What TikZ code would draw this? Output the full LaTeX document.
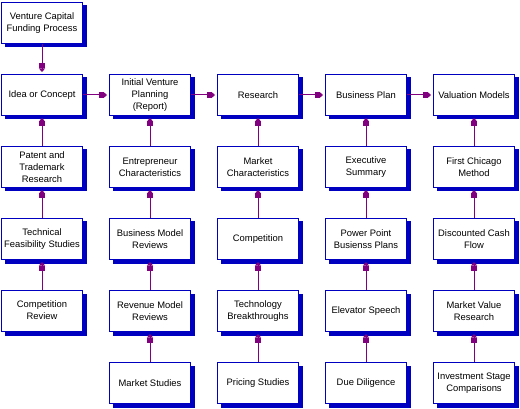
\documentclass[tikz,border=0pt]{standalone}
\usepackage{fontspec}
\setmainfont{Liberation Sans}
\usetikzlibrary{arrows.meta}
\definecolor{boxblue}{RGB}{0,0,192}
\definecolor{arrowpurple}{RGB}{128,0,128}
\tikzset{
  box/.style={draw=boxblue, line width=1pt, fill=white, minimum width=81pt, minimum height=41pt,
    inner sep=0pt, align=center, font=\fontsize{9.4pt}{12pt}\selectfont,
    preaction={fill=boxblue, draw=boxblue, transform canvas={shift={(3.5pt,-3.5pt)}}}},
  link/.style={draw=arrowpurple, line width=1pt, shorten >=2pt,
    -{Rectangle[length=5pt,width=6pt,sep=0pt]Triangle[length=3.5pt,width=6pt]}}
}
\begin{document}
\begin{tikzpicture}[x=1pt,y=-1pt]
\useasboundingbox (0,0) rectangle (520,409);
% column 1
\node[box] (vc)  at (42,23)  {Venture Capital\\Funding Process};
\node[box] (idea) at (42,95) {Idea or Concept};
\node[box] (pat) at (42,167) {Patent and\\Trademark\\Research};
\node[box] (tech) at (42,239) {Technical\\Feasibility Studies};
\node[box] (comprev) at (42,311) {\raisebox{5pt}{\begin{tabular}{@{}c@{}}Competition\\Review\end{tabular}}};
% column 2
\node[box] (ivp) at (150,95) {Initial Venture\\Planning\\(Report)};
\node[box] (ent) at (150,167) {Entrepreneur\\Characteristics};
\node[box] (bmr) at (150,239) {Business Model\\Reviews};
\node[box] (rmr) at (150,311) {Revenue Model\\Reviews};
\node[box] (ms) at (150,383) {Market Studies};
% column 3
\node[box] (res) at (258,95) {Research};
\node[box] (mc) at (258,167) {Market\\Characteristics};
\node[box] (comp) at (258,239) {Competition};
\node[box] (tb) at (258,311) {Technology\\Breakthroughs};
\node[box] (ps) at (258,383) {Pricing Studies};
% column 4
\node[box] (bp) at (366,95) {Business Plan};
\node[box] (es) at (366,167) {Executive\\Summary};
\node[box] (ppt) at (366,239) {Power Point\\Busienss Plans};
\node[box] (el) at (366,311) {Elevator Speech};
\node[box] (dd) at (366,383) {Due Diligence};
% column 5
\node[box] (vm) at (474,95) {Valuation Models};
\node[box] (fc) at (474,167) {First Chicago\\Method};
\node[box] (dcf) at (474,239) {Discounted Cash\\Flow};
\node[box] (mvr) at (474,311) {Market Value\\Research};
\node[box] (isc) at (474,383) {Investment Stage\\Comparisons};
% connectors
\draw[link] (vc) -- (idea);
\draw[link] (idea) -- (ivp);
\draw[link] (ivp) -- (res);
\draw[link] (res) -- (bp);
\draw[link] (bp) -- (vm);
\draw[link] (pat) -- (idea);
\draw[link] (tech) -- (pat);
\draw[link] (comprev) -- (tech);
\draw[link] (ent) -- (ivp);
\draw[link] (bmr) -- (ent);
\draw[link] (rmr) -- (bmr);
\draw[link] (ms) -- (rmr);
\draw[link] (mc) -- (res);
\draw[link] (comp) -- (mc);
\draw[link] (tb) -- (comp);
\draw[link] (ps) -- (tb);
\draw[link] (es) -- (bp);
\draw[link] (ppt) -- (es);
\draw[link] (el) -- (ppt);
\draw[link] (dd) -- (el);
\draw[link] (fc) -- (vm);
\draw[link] (dcf) -- (fc);
\draw[link] (mvr) -- (dcf);
\draw[link] (isc) -- (mvr);
\end{tikzpicture}
\end{document}
